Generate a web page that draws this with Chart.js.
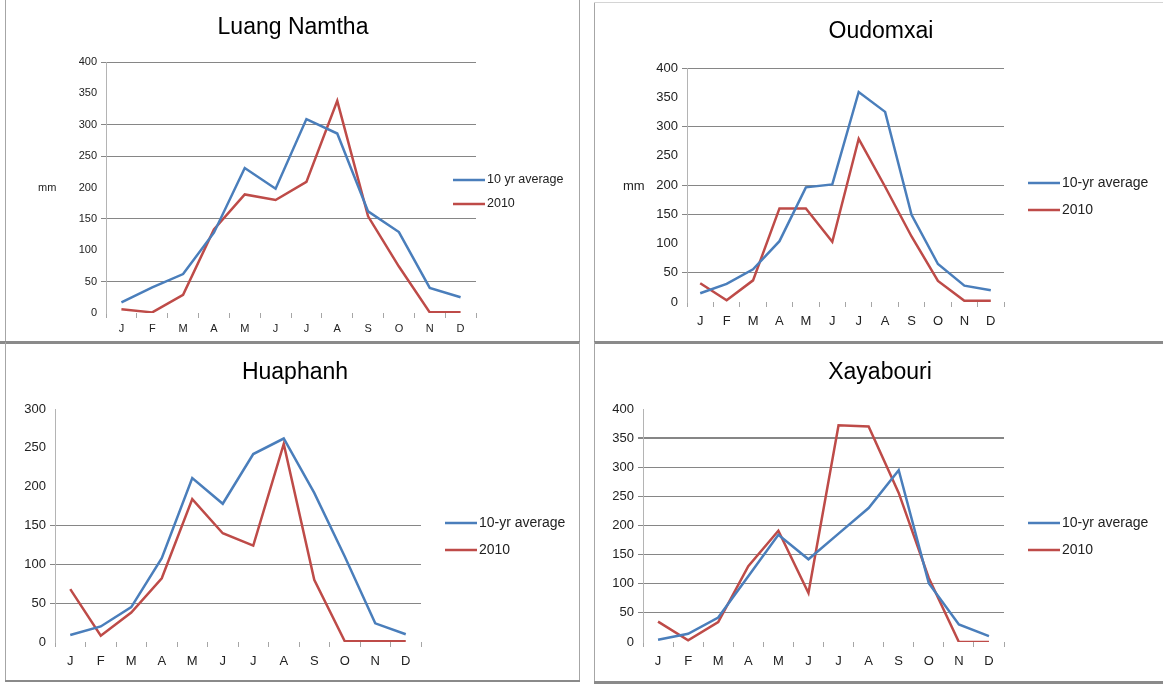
<!DOCTYPE html>
<html>
<head>
<meta charset="utf-8">
<script src="https://cdn.jsdelivr.net/npm/chart.js@4"></script>
<style>
  body { margin: 0; background: #fff; }
  #wrap { position: relative; width: 1163px; height: 684px; overflow: hidden; }
  canvas { position: absolute; }
  .ln { position: absolute; background: #a6a6a6; }
</style>
</head>
<body>
<div id="wrap">
  <!-- panel frames -->
  <div class="ln" style="left:5px;top:0;width:1px;height:342px"></div>
  <div class="ln" style="left:579px;top:0;width:1px;height:342px"></div>
  <div class="ln" style="left:594px;top:2px;width:1px;height:340px"></div>
  <div class="ln" style="left:594px;top:2px;width:569px;height:1px;background:#d4d4d4"></div>
  <div class="ln" style="left:0;top:341px;width:580px;height:3px;background:#8a8a8a"></div>
  <div class="ln" style="left:594px;top:341px;width:569px;height:3px;background:#8a8a8a"></div>
  <div class="ln" style="left:5px;top:342px;width:1px;height:340px"></div>
  <div class="ln" style="left:579px;top:342px;width:1px;height:340px"></div>
  <div class="ln" style="left:594px;top:342px;width:1px;height:340px"></div>
  <div class="ln" style="left:5px;top:680px;width:575px;height:2px;background:#8a8a8a"></div>
  <div class="ln" style="left:594px;top:681px;width:569px;height:3px;background:#8a8a8a"></div>

  <canvas id="c1" width="574" height="341" style="left:5px;top:0"></canvas>
  <canvas id="c2" width="568" height="339" style="left:595px;top:3px"></canvas>
  <canvas id="c3" width="573" height="336" style="left:6px;top:344px"></canvas>
  <canvas id="c4" width="568" height="337" style="left:595px;top:344px"></canvas>
</div>
<script>
const months = ["J", "F", "M", "A", "M", "J", "J", "A", "S", "O", "N", "D"];

// Luang Namtha
const luangAvg = [17, 41, 62, 128, 231, 198, 309, 286, 162, 129, 40, 25];
const luang2010 = [6, 1, 29, 133, 189, 180, 209, 338, 154, 74, 1, 1];
// Oudomxai
const oudomAvg = [15, 31, 56, 104, 196, 201, 359, 325, 149, 65, 28, 20];
const oudom2010 = [32, 3, 37, 160, 160, 103, 279, 197, 112, 36, 2, 2];
// Huaphanh
const huaAvg = [9, 20, 45, 108, 211, 178, 242, 262, 192, 110, 24, 10];
const hua2010 = [68, 8, 38, 82, 184, 140, 124, 255, 80, 1, 1, 1];
// Xayabouri
const xayaAvg = [4, 14, 42, 113, 184, 142, 186, 230, 295, 101, 30, 10];
const xaya2010 = [35, 3, 34, 130, 191, 84, 372, 370, 256, 110, 0, 0];

const blue = "#4a7ebb";
const red = "#be4b48";
const font = "'Liberation Sans', Arial, sans-serif";

// title, "mm" label and legend drawn in canvas text
const panelText = {
  id: "panelText",
  afterDraw(chart, args, o) {
    const ctx = chart.ctx;
    ctx.save();
    ctx.fillStyle = "#000";
    ctx.textBaseline = "middle";
    ctx.textAlign = "center";
    ctx.font = "23px " + font;
    ctx.fillText(o.title, o.titleX, o.titleY);
    ctx.textAlign = "left";
    if (o.mm) {
      ctx.font = o.fontSize + "px " + font;
      ctx.fillStyle = "#222";
      ctx.fillText("mm", o.mm[0], o.mm[1]);
    }
    chart.data.datasets.forEach((ds, i) => {
      const y = o.legY[i];
      ctx.strokeStyle = ds.borderColor;
      ctx.lineWidth = 2.5;
      ctx.beginPath();
      ctx.moveTo(o.legX, y);
      ctx.lineTo(o.legX + 32, y);
      ctx.stroke();
      ctx.fillStyle = "#222";
      ctx.font = o.legSize + "px " + font;
      ctx.fillText(ds.label, o.legX + 34, y);
    });
    ctx.restore();
  }
};

function makePanel(id, p) {
  const canvas = document.getElementById(id);
  const W = canvas.width, H = canvas.height;
  const yW = 40, xH = 24;
  return new Chart(canvas, {
    type: "line",
    data: {
      labels: months,
      datasets: [
        { label: p.avgLabel, data: p.avg, borderColor: blue, borderWidth: 2.5, pointRadius: 0, tension: 0, fill: false },
        { label: "2010", data: p.y2010, borderColor: red, borderWidth: 2.5, pointRadius: 0, tension: 0, fill: false }
      ]
    },
    options: {
      responsive: false,
      animation: false,
      events: [],
      layout: {
        padding: { left: p.left - yW, right: W - p.right, top: p.top, bottom: H - p.bottom - xH }
      },
      plugins: {
        legend: { display: false },
        tooltip: { enabled: false },
        panelText: p.text
      },
      scales: {
        x: {
          offset: true,
          afterFit: s => { s.height = xH; },
          border: { display: false },
          grid: { offset: true, drawOnChartArea: false, tickLength: 5, color: "#a6a6a6" },
          ticks: { color: "#222", padding: p.xPad, font: { family: font, size: p.text.fontSize } }
        },
        y: {
          min: 0,
          max: p.max,
          afterFit: s => { s.width = yW; },
          border: { display: true, color: "#b4b4b4", width: 1 },
          grid: {
            tickLength: 5,
            color: c => p.grid.includes(c.tick.value) ? "#868686" : "rgba(0,0,0,0)",
            lineWidth: c => c.tick.value === p.thick ? 2 : 1
          },
          ticks: { stepSize: 50, color: "#222", padding: 4, font: { family: font, size: p.text.fontSize } }
        }
      }
    },
    plugins: [panelText]
  });
}

makePanel("c1", {
  avgLabel: "10 yr average", avg: luangAvg, y2010: luang2010, max: 400,
  left: 101, right: 471, top: 62, bottom: 313, xPad: 4,
  grid: [400, 300, 250, 150, 50],
  text: { title: "Luang Namtha", titleX: 288, titleY: 28, mm: [33, 188], legX: 448, legY: [180, 204], fontSize: 11, legSize: 12.5 }
});
makePanel("c2", {
  avgLabel: "10-yr average", avg: oudomAvg, y2010: oudom2010, max: 400,
  left: 92, right: 409, top: 65, bottom: 299, xPad: 7,
  grid: [400, 300, 200, 150, 50],
  text: { title: "Oudomxai", titleX: 286, titleY: 29, mm: [28, 183], legX: 433, legY: [180, 207], fontSize: 13, legSize: 14 }
});
makePanel("c3", {
  avgLabel: "10-yr average", avg: huaAvg, y2010: hua2010, max: 300,
  left: 49, right: 415, top: 65, bottom: 298, xPad: 7,
  grid: [150, 100, 50],
  text: { title: "Huaphanh", titleX: 289, titleY: 29, mm: null, legX: 439, legY: [179, 206], fontSize: 13, legSize: 14 }
});
makePanel("c4", {
  avgLabel: "10-yr average", avg: xayaAvg, y2010: xaya2010, max: 400,
  left: 48, right: 409, top: 65, bottom: 298, xPad: 7,
  grid: [350, 300, 250, 200, 150, 100, 50], thick: 350,
  text: { title: "Xayabouri", titleX: 285, titleY: 29, mm: null, legX: 433, legY: [179, 206], fontSize: 13, legSize: 14 }
});
</script>
</body>
</html>
